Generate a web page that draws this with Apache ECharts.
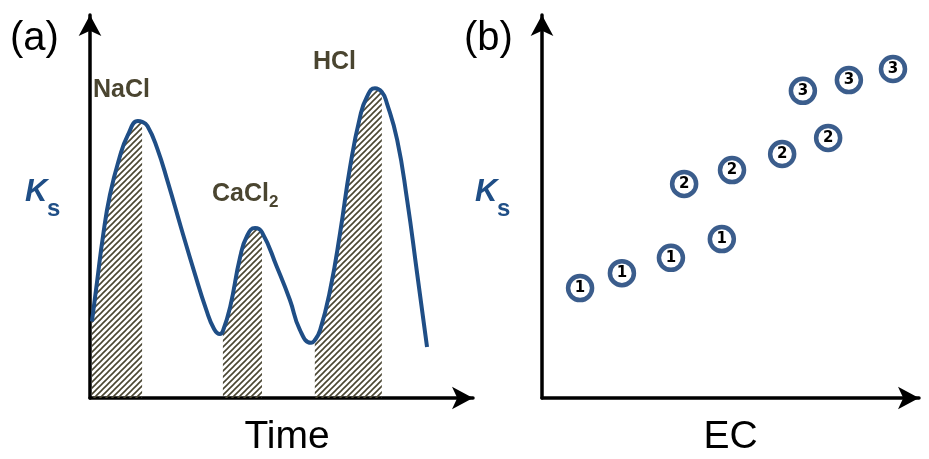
<!DOCTYPE html>
<html>
<head>
<meta charset="utf-8">
<script src="https://cdn.jsdelivr.net/npm/echarts@6/dist/echarts.min.js"></script>
<style>
  html, body { margin: 0; padding: 0; background: #fff; }
  #chart { width: 929px; height: 459px; }
</style>
</head>
<body>
<div id="chart"></div>
<script>
// ---------- (a) Ks over time ----------
var timeX = [0.5, 1.8, 3.4, 5.2, 7.6, 9.9, 12.5, 13.6, 15.0, 17.5, 20.4, 23.8, 27.2, 30.3, 32.4, 33.9, 34.7,
             36.6, 39.2, 41.0, 43.1, 44.9, 48.8, 52.2, 54.8, 57.7, 58.7, 60.1, 62.7, 65.3, 67.9, 70.5,
             72.3, 74.4, 76.2, 77.5, 80.2, 82.8, 85.4, 88.0];
var ksTime = [20.0, 30.0, 42.3, 53.0, 62.4, 68.7, 72.3, 72.1, 71.0, 65.3, 56.1, 44.4, 33.0, 23.2, 18.0, 16.7, 17.5,
              23.8, 36.8, 42.3, 44.4, 43.3, 34.2, 25.6, 17.8, 14.4, 15.1, 17.8, 28.2, 43.1, 60.3, 73.4,
              78.6, 80.9, 79.9, 77.0, 67.4, 51.7, 32.6, 13.3];
// hatched windows (start, end) on the time axis
var hatchStart = [0.5, 34.7, 58.7];
var hatchEnd = [13.6, 44.9, 76.2];

// ---------- (b) Ks against EC ----------
var ec1 = [10.1, 21.2, 34.2, 47.7];
var ks1 = [28.7, 32.6, 36.6, 41.5];
var ec2 = [37.7, 50.4, 63.7, 75.9];
var ks2 = [55.9, 59.5, 63.7, 67.9];
var ec3 = [69.2, 81.4, 93.1];
var ks3 = [80.2, 83.0, 85.9];

var blue = '#1f4e86';
var olive = '#4a4530';
var font = 'Liberation Sans, Arial, sans-serif';

// hatch tile
var tile = document.createElement('canvas');
tile.width = 6;
tile.height = 6;
var ctx = tile.getContext('2d');
ctx.strokeStyle = '#4a4632';
ctx.lineWidth = 1.6;
ctx.beginPath();
ctx.moveTo(0, 6); ctx.lineTo(6, 0);
ctx.moveTo(-1, 1); ctx.lineTo(1, -1);
ctx.moveTo(5, 7); ctx.lineTo(7, 5);
ctx.stroke();

function inHatch(x) {
  for (var k = 0; k < hatchStart.length; k++) {
    if (x >= hatchStart[k] && x <= hatchEnd[k]) return true;
  }
  return false;
}

var curveData = timeX.map(function (x, i) { return [x, ksTime[i]]; });
var hatchData = timeX.map(function (x, i) { return [x, inHatch(x) ? ksTime[i] : '-']; });

function pairs(xs, ys) {
  return xs.map(function (x, i) { return [x, ys[i]]; });
}

var axisLine = {
  show: true,
  symbol: ['none', 'arrow'],
  symbolSize: [17, 21],
  lineStyle: { color: '#000', width: 3.5 }
};

function valueAxis(extra) {
  var a = {
    type: 'value',
    min: 0,
    max: 100,
    axisLine: axisLine,
    axisTick: { show: false },
    axisLabel: { show: false },
    splitLine: { show: false }
  };
  for (var k in extra) a[k] = extra[k];
  return a;
}

var scatterStyle = {
  type: 'scatter',
  xAxisIndex: 1,
  yAxisIndex: 1,
  symbol: 'circle',
  symbolSize: 24,
  itemStyle: { color: '#fff', borderColor: '#3b5d8c', borderWidth: 4.5, opacity: 1 },
  label: {
    show: true,
    position: 'inside',
    formatter: '{a}',
    color: '#000',
    fontFamily: 'DejaVu Sans, sans-serif',
    fontWeight: 'bold',
    fontSize: 15
  }
};

function scatter(name, data) {
  var s = { name: name, data: data };
  for (var k in scatterStyle) s[k] = scatterStyle[k];
  return s;
}

var chart = echarts.init(document.getElementById('chart'));
chart.setOption({
  animation: false,
  grid: [
    { left: 90, top: 15, width: 383, bottom: 61, outerBoundsMode: 'none' },
    { left: 542, top: 15, width: 377, bottom: 61, outerBoundsMode: 'none' }
  ],
  xAxis: [
    valueAxis({
      gridIndex: 0, name: 'Time', nameLocation: 'middle', nameGap: 20,
      nameTextStyle: { fontSize: 39, color: '#000', fontFamily: font, padding: [0, 0, 0, 11] }
    }),
    valueAxis({
      gridIndex: 1, name: 'EC', nameLocation: 'middle', nameGap: 20,
      nameTextStyle: { fontSize: 39, color: '#000', fontFamily: font }
    })
  ],
  yAxis: [
    valueAxis({ gridIndex: 0 }),
    valueAxis({ gridIndex: 1 })
  ],
  series: [
    {
      type: 'line',
      xAxisIndex: 0,
      yAxisIndex: 0,
      data: hatchData,
      smooth: 0.5,
      symbol: 'none',
      lineStyle: { width: 0, opacity: 0 },
      areaStyle: { color: { image: tile, repeat: 'repeat' }, opacity: 1 },
      z: 1
    },
    {
      type: 'line',
      xAxisIndex: 0,
      yAxisIndex: 0,
      data: curveData,
      smooth: 0.5,
      symbol: 'none',
      lineStyle: { color: blue, width: 4 },
      z: 2
    },
    scatter('1', pairs(ec1, ks1)),
    scatter('2', pairs(ec2, ks2)),
    scatter('3', pairs(ec3, ks3))
  ],
  graphic: [
    { type: 'text', left: 10, top: 19, style: { text: '(a)', font: '40px ' + font, fill: '#000' } },
    { type: 'text', left: 464, top: 19, style: { text: '(b)', font: '40px ' + font, fill: '#000' } },
    { type: 'text', x: 25, y: 192, style: { text: 'K', font: 'italic bold 31px ' + font, fill: blue, verticalAlign: 'middle' } },
    { type: 'text', x: 47, y: 209, style: { text: 's', font: 'bold 24px ' + font, fill: blue, verticalAlign: 'middle' } },
    { type: 'text', x: 475, y: 192, style: { text: 'K', font: 'italic bold 31px ' + font, fill: blue, verticalAlign: 'middle' } },
    { type: 'text', x: 497, y: 209, style: { text: 's', font: 'bold 24px ' + font, fill: blue, verticalAlign: 'middle' } },
    { type: 'text', x: 93, y: 90, style: { text: 'NaCl', font: 'bold 25px ' + font, fill: olive, verticalAlign: 'middle' } },
    { type: 'text', x: 212, y: 194, style: { text: 'CaCl', font: 'bold 25px ' + font, fill: olive, verticalAlign: 'middle' } },
    { type: 'text', x: 269, y: 202, style: { text: '2', font: 'bold 17px ' + font, fill: olive, verticalAlign: 'middle' } },
    { type: 'text', x: 313, y: 62, style: { text: 'HCl', font: 'bold 25px ' + font, fill: olive, verticalAlign: 'middle' } }
  ]
});
</script>
</body>
</html>
